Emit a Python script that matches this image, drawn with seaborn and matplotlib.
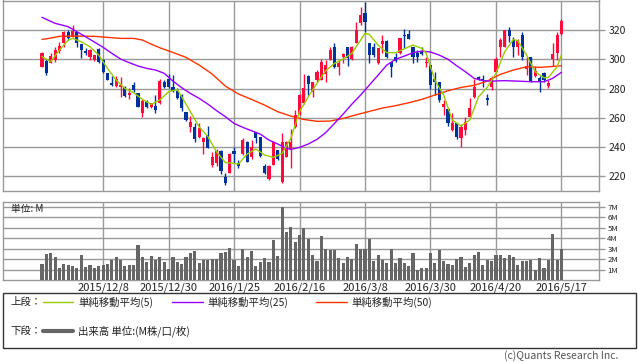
import numpy as np
import pandas as pd
import matplotlib
matplotlib.use("Agg")
import matplotlib.pyplot as plt
from matplotlib.patches import Rectangle
from matplotlib.lines import Line2D
import seaborn as sns

# ---------------- data ----------------
open_ = [294.9, 298.8, 297.7, 299.5, 305.9, 310.9, 318.9, 315.4, 318.9, 310.4,
         305.5, 301.8, 299.5, 306.8, 299.5, 290.4, 283.6, 281.7, 280.8, 280.8,
         275.6, 282.4, 276.7, 263.5, 271.7, 267.1, 268.1, 269.9, 284.7, 286.3,
         280.8, 278.5, 275.6, 263.7, 253.9, 253.9, 247.1, 243.7, 248.2, 227.7,
         229.3, 237.5, 219.7, 222.5, 237.3, 228.9, 235.2, 243.7, 233.0, 250.5,
         247.1, 227.3, 218.2, 227.7, 238.0, 216.3, 233.4, 238.7, 253.5, 262.6,
         269.9, 288.6, 277.8, 285.8, 285.8, 289.9, 299.5, 308.6, 294.9, 301.3,
         308.2, 300.0, 310.9, 325.0, 331.4, 311.3, 308.6, 297.2, 310.4, 312.7,
         298.4, 301.8, 304.1, 316.6, 317.0, 308.6, 304.5, 305.2, 297.2, 296.1,
         286.3, 284.7, 267.6, 265.8, 251.6, 256.2, 246.0, 251.6, 260.8, 274.0,
         288.1, 286.3, 273.3, 280.8, 291.5, 308.2, 308.6, 320.0, 313.2, 308.2,
         316.6, 293.1, 301.3, 288.6, 287.0, 290.8, 281.7, 300.0, 304.1, 317.3]
close = [304.1, 290.8, 302.2, 306.3, 309.1, 318.9, 314.3, 319.5, 310.9, 306.3,
         304.5, 306.3, 302.9, 298.4, 291.5, 285.8, 282.4, 286.5, 282.4, 274.9,
         277.2, 279.0, 267.6, 271.7, 267.1, 269.9, 265.3, 285.4, 280.8, 280.8,
         278.5, 273.3, 266.5, 258.5, 257.3, 245.3, 252.8, 246.0, 239.1, 233.4,
         237.5, 223.9, 215.2, 235.2, 235.2, 227.3, 244.8, 230.0, 240.3, 246.0,
         233.9, 222.0, 227.3, 243.7, 231.6, 243.7, 243.7, 243.7, 261.9, 275.6,
         280.1, 283.1, 284.7, 291.5, 298.4, 296.1, 306.3, 294.9, 297.7, 303.6,
         300.6, 308.6, 320.0, 330.3, 325.7, 302.9, 302.9, 307.5, 312.7, 301.3,
         294.9, 299.0, 314.3, 315.9, 314.1, 301.3, 301.3, 303.6, 298.4, 282.4,
         284.7, 272.2, 269.4, 256.2, 256.2, 246.6, 253.5, 257.3, 266.5, 281.3,
         286.3, 285.8, 272.2, 287.0, 300.0, 313.2, 320.0, 315.9, 308.2, 313.2,
         301.3, 295.4, 284.7, 292.2, 284.7, 285.8, 283.6, 303.6, 316.6, 326.4]
high = [305.2, 300.0, 304.1, 308.6, 312.0, 319.5, 320.0, 323.4, 319.0, 310.4,
        307.9, 306.8, 303.0, 307.5, 300.0, 290.8, 288.6, 288.6, 288.0, 281.7,
        280.1, 284.7, 277.2, 272.6, 272.2, 269.9, 275.6, 286.3, 285.8, 289.9,
        289.2, 280.1, 276.3, 264.2, 261.2, 256.2, 256.2, 247.1, 254.4, 236.8,
        238.4, 238.0, 222.5, 235.7, 240.3, 231.1, 246.0, 244.4, 244.8, 250.5,
        247.1, 228.4, 227.7, 244.0, 238.2, 249.4, 244.0, 252.1, 265.3, 276.3,
        289.9, 289.2, 284.7, 292.6, 300.0, 299.5, 308.6, 311.3, 299.5, 304.1,
        308.2, 309.0, 325.7, 335.9, 339.4, 311.3, 310.9, 307.5, 316.6, 313.2,
        298.4, 304.1, 314.3, 320.5, 320.0, 308.6, 306.3, 308.2, 301.3, 296.1,
        291.5, 284.7, 272.2, 266.5, 263.5, 256.2, 255.7, 260.3, 273.3, 286.3,
        288.6, 289.2, 276.3, 288.6, 301.8, 314.3, 320.0, 322.3, 315.4, 313.6,
        318.9, 301.8, 301.3, 295.4, 288.6, 291.5, 285.8, 311.3, 318.9, 327.3]
low = [294.5, 289.2, 297.2, 298.4, 304.1, 308.6, 313.2, 315.0, 308.6, 301.1,
       302.9, 299.5, 298.8, 297.7, 290.8, 285.8, 281.7, 281.3, 274.0, 274.4,
       272.6, 277.8, 267.1, 260.3, 266.5, 266.5, 263.0, 269.4, 280.1, 280.1,
       277.8, 272.6, 264.9, 258.0, 250.5, 243.7, 246.0, 235.2, 239.1, 226.6,
       227.3, 221.6, 214.1, 222.0, 228.9, 225.4, 234.6, 229.5, 231.6, 242.5,
       233.4, 221.6, 217.5, 227.5, 231.4, 215.6, 233.2, 225.4, 252.8, 261.9,
       269.4, 275.6, 274.4, 284.7, 285.8, 284.7, 299.5, 293.8, 289.2, 297.2,
       295.6, 299.5, 310.9, 323.4, 318.9, 297.2, 301.8, 296.8, 304.1, 300.6,
       288.1, 298.4, 303.6, 307.5, 313.6, 297.2, 298.4, 302.9, 294.9, 279.4,
       275.6, 271.0, 261.9, 254.4, 251.2, 245.3, 239.8, 248.2, 260.3, 273.3,
       285.8, 280.8, 268.7, 279.0, 290.8, 301.8, 308.2, 312.0, 301.3, 302.9,
       299.5, 289.2, 284.7, 287.6, 277.8, 284.7, 280.1, 295.4, 299.5, 316.6]
volume = [1.56, 2.52, 2.62, 2.23, 1.18, 1.56, 1.44, 1.34, 1.18, 2.43,
          1.28, 1.47, 1.18, 1.37, 1.47, 1.56, 1.88, 2.23, 1.95, 1.37,
          1.47, 1.47, 3.38, 2.23, 1.76, 2.33, 1.88, 2.23, 1.76, 1.09,
          2.23, 1.76, 1.56, 2.23, 2.62, 2.81, 1.66, 1.88, 1.95, 2.04,
          2.04, 2.62, 2.71, 3.10, 1.88, 1.37, 3.00, 2.23, 2.81, 1.37,
          1.76, 2.14, 1.76, 3.86, 2.33, 7.02, 4.63, 5.10, 3.67, 4.35,
          5.01, 3.89, 2.43, 1.79, 4.25, 3.00, 2.84, 2.84, 2.14, 1.60,
          2.23, 2.04, 3.48, 3.00, 2.94, 3.89, 1.79, 2.43, 1.88, 1.66,
          3.00, 1.66, 2.14, 1.60, 1.37, 2.62, 0.93, 1.18, 1.18, 2.62,
          1.66, 2.84, 1.79, 1.56, 1.47, 2.04, 2.23, 1.28, 1.66, 2.43,
          2.71, 1.47, 1.88, 1.79, 2.43, 2.43, 2.14, 2.43, 2.23, 1.47,
          1.79, 1.79, 1.88, 0.99, 2.14, 1.18, 1.88, 4.44, 1.95, 2.94]

ma5_idx = [0, 2, 4, 6, 7, 9, 11, 13, 15, 17, 19, 21, 23, 25, 27, 29, 31, 32, 34, 36,
           38, 40, 42, 44, 45, 47, 49, 51, 53, 55, 57, 59, 61, 63, 65, 67, 69, 71, 73, 74,
           75, 77, 79, 81, 83, 85, 87, 88, 90, 92, 94, 96, 98, 100, 102, 104, 106, 108, 109, 111,
           113, 115, 116, 118, 119]
ma5_val = [301.8, 298.4, 306.3, 313.2, 314.3, 312.0, 308.6, 302.9, 293.8, 285.8,
           280.1, 277.2, 272.6, 269.2, 272.2, 277.8, 279.4, 274.4, 264.2, 253.9,
           247.1, 236.8, 229.5, 228.9, 228.4, 235.2, 238.7, 234.6, 233.0, 235.7,
           246.0, 264.2, 274.4, 283.6, 292.2, 297.2, 300.2, 304.1, 313.2, 317.7,
           317.0, 309.7, 304.5, 304.5, 307.2, 309.7, 307.5, 304.1, 285.8, 275.6,
           258.5, 254.4, 258.5, 274.4, 280.8, 290.4, 305.2, 313.6, 312.7, 302.9,
           291.5, 287.4, 287.6, 294.9, 302.9]
ma25_idx = [0, 3, 6, 8, 10, 12, 14, 16, 18, 20, 22, 24, 26, 28, 30, 32, 34, 36, 38, 40,
            42, 44, 46, 48, 50, 52, 54, 56, 57, 59, 61, 63, 65, 67, 69, 71, 73, 75, 77, 79,
            81, 83, 85, 87, 89, 91, 93, 95, 97, 99, 101, 103, 106, 109, 112, 115, 117, 119]
ma25_val = [328.7, 324.6, 322.3, 318.9, 315.4, 311.8, 308.2, 304.1, 300.2, 297.7,
            295.4, 293.8, 292.7, 290.4, 285.1, 280.6, 276.7, 273.3, 269.4, 264.9,
            260.8, 256.2, 253.5, 251.2, 248.9, 244.8, 242.1, 239.1, 238.4, 239.8,
            242.1, 245.3, 249.9, 256.2, 262.6, 269.4, 275.6, 282.4, 289.2, 296.1,
            300.0, 302.2, 304.5, 305.6, 305.0, 302.9, 300.0, 295.6, 291.5, 287.0,
            285.4, 285.1, 285.4, 285.1, 284.7, 284.7, 287.0, 291.1]
ma50_idx = [0, 2, 4, 8, 12, 15, 18, 21, 23, 25, 27, 30, 33, 36, 39, 42, 45, 48, 51, 54,
            57, 60, 63, 66, 69, 72, 75, 78, 81, 84, 87, 90, 93, 96, 99, 102, 105, 108, 111, 114,
            116, 119]
ma50_val = [313.6, 314.5, 315.7, 315.9, 315.7, 315.0, 314.3, 314.3, 313.2, 310.4,
            307.9, 304.7, 301.3, 296.1, 289.9, 281.7, 276.3, 272.6, 268.7, 264.2,
            261.2, 258.9, 257.6, 257.8, 259.6, 262.1, 264.4, 266.7, 268.3, 270.3,
            272.6, 275.6, 278.5, 280.8, 282.2, 285.1, 289.7, 292.7, 294.9, 294.5,
            294.9, 295.6]

date_idx = [14, 29, 44, 59, 74, 89, 104, 119]
date_labels = ["2015/12/8", "2015/12/30", "2016/1/25", "2016/2/16",
               "2016/3/8", "2016/3/30", "2016/4/20", "2016/5/17"]
price_ticks = [220, 240, 260, 280, 300, 320]
vol_ticks = [1, 2, 3, 4, 5, 6, 7]

# ---------------- style ----------------
sns.set_style("white")
plt.rcParams['font.family'] = ['Noto Sans CJK JP', 'DejaVu Sans']

UP = '#ff0a3c'
DOWN = '#003399'
GRID = '#999999'

W, H = 638, 362
fig = plt.figure(figsize=(W / 100, H / 100), dpi=100)
fig.patch.set_facecolor('white')

def fx(x):
    return x / W

def fy(y):
    return 1 - y / H

L, R = 3.3, 599
ax = fig.add_axes([fx(L), fy(190.7), (R - L) / W, (190.7 - 0.5) / H])
axv = fig.add_axes([fx(L), fy(280), (R - L) / W, (280 - 201.5) / H])

df = pd.DataFrame({'i': np.arange(len(close)), 'open': open_, 'close': close,
                   'high': high, 'low': low, 'volume': volume})
df['up'] = df['close'] >= df['open']
df['col'] = np.where(df['up'], UP, DOWN)
df['bot'] = df[['open', 'close']].min(axis=1)
df['h'] = (df['close'] - df['open']).abs().clip(lower=0.4)

# candles
ax.vlines(df['i'], df['low'], df['high'], colors=df['col'], lw=1.0, zorder=2)
ax.bar(df['i'], df['h'], bottom=df['bot'], width=0.72, color=df['col'],
       linewidth=0, zorder=3)

# moving averages
sns.lineplot(x=ma50_idx, y=ma50_val, ax=ax, color='#ff3300', lw=1.0, zorder=4)
sns.lineplot(x=ma25_idx, y=ma25_val, ax=ax, color='#9900ff', lw=1.0, zorder=4)
sns.lineplot(x=ma5_idx, y=ma5_val, ax=ax, color='#99cc00', lw=1.0, zorder=4)

xlim = (-8.86, 127.6)
ax.set_xlim(*xlim)
ax.set_ylim(210.2, 340.2)
ax.set_xticks(date_idx)
ax.set_yticks(price_ticks)
ax.set_yticklabels([str(t) for t in price_ticks])
ax.yaxis.tick_right()
ax.tick_params(axis='x', length=0, labelbottom=False)
ax.tick_params(axis='y', direction='out', length=4, color=GRID, width=1,
               labelsize=7.5, pad=3, labelcolor='#222222')
ax.grid(True, color=GRID, lw=1)
ax.set_axisbelow(True)
ax.set_xlabel('')
ax.set_ylabel('')
for s in ax.spines.values():
    s.set_color(GRID)
    s.set_linewidth(1)

# volume
sns.barplot(data=df, x='i', y='volume', native_scale=True, ax=axv,
            color='#666666', saturation=1, width=0.72, errorbar=None,
            linewidth=0, zorder=3)
axv.set_xlim(*xlim)
axv.set_ylim(0, 7.51)
axv.set_xticks(date_idx)
axv.set_xticklabels(date_labels)
axv.set_yticks(vol_ticks)
axv.set_yticklabels([f'{t}M' for t in vol_ticks])
axv.yaxis.tick_right()
axv.tick_params(axis='x', length=0, labelsize=8, pad=2, labelcolor='#222222')
axv.tick_params(axis='y', direction='out', length=4, color=GRID, width=1,
                labelsize=5.6, pad=2, labelcolor='#222222')
axv.grid(True, color=GRID, lw=1)
axv.set_axisbelow(True)
axv.set_xlabel('')
axv.set_ylabel('')
for s in axv.spines.values():
    s.set_color(GRID)
    s.set_linewidth(1)

fig.text(fx(11), fy(209), '単位: M', fontsize=7, va='center', ha='left', color='#222222')

# legend box
fig.add_artist(Rectangle((fx(3), fy(348)), 633 / W, 55 / H, transform=fig.transFigure,
                         fill=False, edgecolor='#333333', lw=1))
r1, r2 = 302, 331
fs = 7.5
fig.text(fx(10), fy(r1), '上段：', fontsize=fs, va='center', ha='left', color='#222222')
fig.text(fx(10), fy(r2), '下段：', fontsize=fs, va='center', ha='left', color='#222222')
for (x0, x1, c, lw_) in [(43, 73, '#99cc00', 1), (172, 203, '#9900ff', 1),
                         (316, 347, '#ff3300', 1)]:
    fig.add_artist(Line2D([fx(x0), fx(x1)], [fy(r1), fy(r1)], transform=fig.transFigure,
                          color=c, lw=lw_))
fig.add_artist(Line2D([fx(43), fx(73)], [fy(r2), fy(r2)], transform=fig.transFigure,
                      color='#666666', lw=3))
fig.text(fx(78), fy(r1), '単純移動平均(5)', fontsize=fs, va='center', ha='left', color='#222222')
fig.text(fx(207), fy(r1), '単純移動平均(25)', fontsize=fs, va='center', ha='left', color='#222222')
fig.text(fx(351), fy(r1), '単純移動平均(50)', fontsize=fs, va='center', ha='left', color='#222222')
fig.text(fx(78), fy(r2), '出来高 単位:(M株/口/枚)', fontsize=fs, va='center', ha='left',
         color='#222222')
fig.text(fx(618), fy(356), '(c)Quants Research Inc.', fontsize=7.5, va='center', ha='right',
         color='#555555')

fig.savefig('out.png', dpi=100, facecolor='white')
